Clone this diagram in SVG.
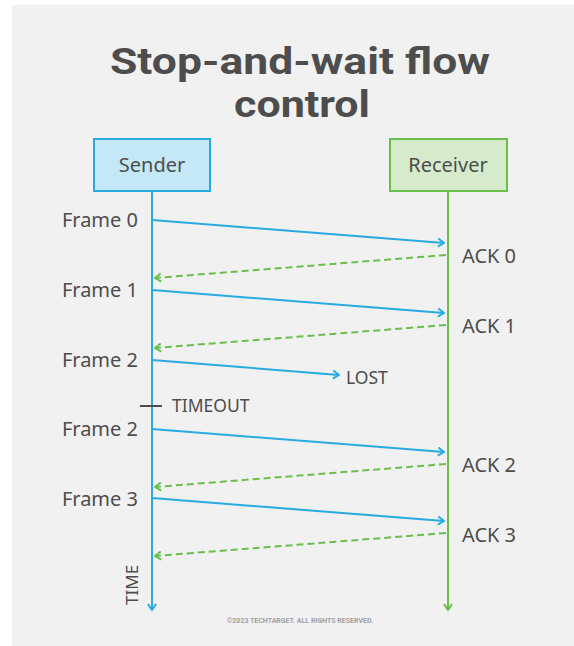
<svg xmlns="http://www.w3.org/2000/svg" width="574" height="646" viewBox="0 0 574 646">
<defs>
<style>
.t{font-family:"Noto Sans","Open Sans","Liberation Sans",sans-serif;fill:#4d4d4d;font-size:20px}
.s{font-family:"Noto Sans","Open Sans","Liberation Sans",sans-serif;fill:#4d4d4d;font-size:17.5px}
.title{font-family:Roboto,"Liberation Sans",sans-serif;font-weight:bold;fill:#4d4d4d;font-size:37px}
.blue{stroke:#29abe2;stroke-width:2;fill:none}
.green{stroke:#6abf4b;stroke-width:2;fill:none}
.dash{stroke:#6abf4b;stroke-width:2;fill:none;stroke-dasharray:7 4}
</style>
<marker id="ab" viewBox="0 0 10 10" refX="9" refY="5" markerWidth="10" markerHeight="10" markerUnits="userSpaceOnUse" orient="auto">
<path d="M3,1 L9,5 L3,9" fill="none" stroke="#29abe2" stroke-width="2"/>
</marker>
<marker id="ag" viewBox="0 0 10 10" refX="9" refY="5" markerWidth="10" markerHeight="10" markerUnits="userSpaceOnUse" orient="auto">
<path d="M3,1 L9,5 L3,9" fill="none" stroke="#6abf4b" stroke-width="2"/>
</marker>
</defs>
<rect x="12" y="5" width="562" height="641" fill="#f1f1f1"/>
<g id="title">
<text class="title" x="300" y="74" text-anchor="middle" textLength="380" lengthAdjust="spacingAndGlyphs">Stop-and-wait flow</text>
<text class="title" x="302" y="117" text-anchor="middle" textLength="136" lengthAdjust="spacingAndGlyphs">control</text>
</g>
<g id="sender">
<rect x="94" y="139" width="116" height="52" fill="#c5e8f7" stroke="#29abe2" stroke-width="2"/>
<text class="t" x="152" y="172" text-anchor="middle">Sender</text>
</g>
<g id="receiver">
<rect x="390" y="139" width="117" height="52" fill="#d5ebcb" stroke="#6abf4b" stroke-width="2"/>
<text class="t" x="448" y="172" text-anchor="middle">Receiver</text>
</g>
<g id="connectors">
<line class="blue" x1="152" y1="191" x2="152" y2="610" marker-end="url(#ab)"/>
<line class="green" x1="448" y1="191" x2="448" y2="610" marker-end="url(#ag)"/>
<line class="blue" x1="152" y1="220" x2="444" y2="243" marker-end="url(#ab)"/>
<line class="dash" x1="446" y1="255" x2="155" y2="278" marker-end="url(#ag)"/>
<line class="blue" x1="152" y1="290" x2="444" y2="313" marker-end="url(#ab)"/>
<line class="dash" x1="446" y1="325" x2="155" y2="348" marker-end="url(#ag)"/>
<line class="blue" x1="152" y1="360" x2="339" y2="375" marker-end="url(#ab)"/>
<line x1="140" y1="406" x2="162" y2="406" stroke="#4d4d4d" stroke-width="2"/>
<line class="blue" x1="152" y1="429" x2="444" y2="452" marker-end="url(#ab)"/>
<line class="dash" x1="446" y1="464" x2="155" y2="487" marker-end="url(#ag)"/>
<line class="blue" x1="152" y1="498" x2="444" y2="521" marker-end="url(#ab)"/>
<line class="dash" x1="446" y1="533" x2="155" y2="556" marker-end="url(#ag)"/>
</g>
<g id="labels">
<text class="t" x="138" y="227" text-anchor="end">Frame 0</text>
<text class="t" x="138" y="297" text-anchor="end">Frame 1</text>
<text class="t" x="138" y="367" text-anchor="end">Frame 2</text>
<text class="t" x="138" y="436" text-anchor="end">Frame 2</text>
<text class="t" x="138" y="506" text-anchor="end">Frame 3</text>
<text class="t" x="462" y="263">ACK 0</text>
<text class="t" x="462" y="333">ACK 1</text>
<text class="t" x="462" y="472">ACK 2</text>
<text class="t" x="462" y="542">ACK 3</text>
<text class="s" x="346" y="384">LOST</text>
<text class="s" x="172" y="412">TIMEOUT</text>
<text class="s" x="138" y="605" style="font-size:17px" transform="rotate(-90 138 605)">TIME</text>
<text x="300" y="623" text-anchor="middle" font-family="Roboto,'Liberation Sans',sans-serif" font-weight="bold" font-size="7" fill="#a0a0a0">©2023 TECHTARGET. ALL RIGHTS RESERVED.</text>
</g>
</svg>
